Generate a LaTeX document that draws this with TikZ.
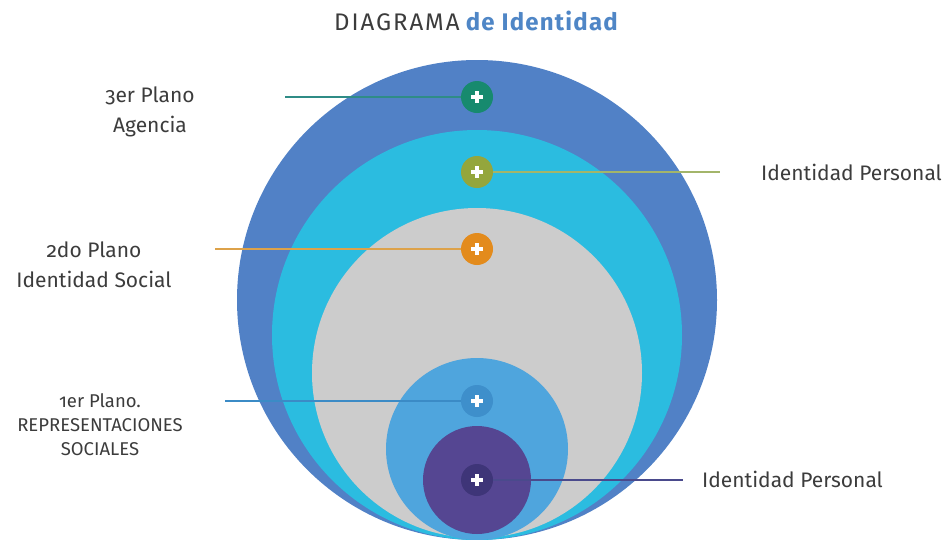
\documentclass[tikz,border=0pt]{standalone}
\usepackage{fontspec}
\setmainfont{Fira Sans}[Numbers=OldStyle]
\usepackage{xcolor}
\usepackage{tikz}

\definecolor{capaA}{HTML}{5181C6}
\definecolor{capaB}{HTML}{2BBCE0}
\definecolor{capaC}{HTML}{CCCCCC}
\definecolor{capaD}{HTML}{4FA5DD}
\definecolor{capaE}{HTML}{554692}
\definecolor{marcaA}{HTML}{178A6E}
\definecolor{marcaB}{HTML}{94A63C}
\definecolor{marcaC}{HTML}{E38B1C}
\definecolor{marcaD}{HTML}{3E8FCB}
\definecolor{marcaE}{HTML}{3E3578}
\definecolor{lineaA}{HTML}{2F8C86}
\definecolor{lineaB}{HTML}{A3B56A}
\definecolor{lineaC}{HTML}{DDA24A}
\definecolor{lineaD}{HTML}{3B8BC6}
\definecolor{lineaE}{HTML}{4A4A8C}
\definecolor{texto}{HTML}{3C3C3C}
\definecolor{titulo}{HTML}{4F86C6}

\tikzset{
    marca/.style={circle, fill=#1, minimum size=32pt, inner sep=0pt,
        path picture={
            \fill[white] ([xshift=-6pt,yshift=-2pt]path picture bounding box.center) rectangle ([xshift=6pt,yshift=2pt]path picture bounding box.center);
            \fill[white] ([xshift=-2pt,yshift=-6pt]path picture bounding box.center) rectangle ([xshift=2pt,yshift=6pt]path picture bounding box.center);
        }},
    etiqueta/.style={text=texto, inner sep=0pt, align=center, font=\fontsize{21}{30}\selectfont},
    linea/.style={draw=#1, line width=2pt}
}

\begin{document}
\begin{tikzpicture}[x=1pt, y=-1pt]
    \useasboundingbox (0,0) rectangle (946,539);

    \foreach \cy/\r/\col in {300/240/capaA, 335/205/capaB, 373/165/capaC, 449/91/capaD, 480/54/capaE}
    \fill[\col] (477,\cy) circle (\r);

    \foreach \name/\y/\col in {mtres/97/marcaA, mpersA/172/marcaB, mdos/249/marcaC, muno/401/marcaD, mpersB/480/marcaE}
    \node[marca=\col] (\name) at (477,\y) {};

    \node[text=texto, inner sep=0pt, font=\fontsize{24}{28}\selectfont] (tit) at (476,21)
    {{\addfontfeatures{LetterSpace=8}DIAGRAMA} \textcolor{titulo}{\bfseries\addfontfeatures{LetterSpace=5}de Identidad}};

    \node[etiqueta] (ltres) at (150,112) {3er Plano\\Agencia};
    \node[etiqueta] (ldos) at (94,265) {2do Plano\\Identidad Social};
    \node[etiqueta, font=\fontsize{18.5}{24}\selectfont] (luno) at (100,425) {1er Plano.\\REPRESENTACIONES\\SOCIALES};
    \node[etiqueta, anchor=west] (lpersA) at (761,172) {Identidad Personal};
    \node[etiqueta, anchor=west] (lpersB) at (702,479) {Identidad Personal};

    \coordinate (ctres) at (285,97);
    \coordinate (cpersA) at (720,172);
    \coordinate (cdos) at (215,249);
    \coordinate (cuno) at (225,401);
    \coordinate (cpersB) at (683,480);

    \draw[linea=lineaA] (ctres) -- (mtres);
    \draw[linea=lineaB] (mpersA) -- (cpersA);
    \draw[linea=lineaC] (cdos) -- (mdos);
    \draw[linea=lineaD] (cuno) -- (muno);
    \draw[linea=lineaE] (mpersB) -- (cpersB);

\end{tikzpicture}
\end{document}
